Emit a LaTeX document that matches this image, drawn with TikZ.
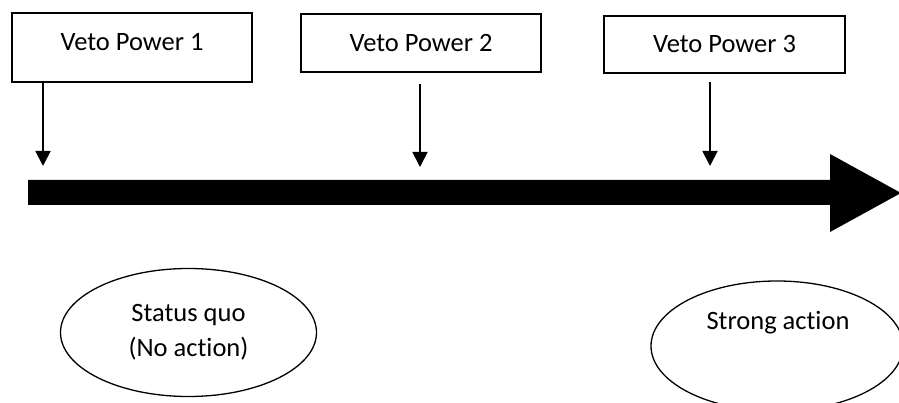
\documentclass[tikz,border=0pt]{standalone}
\usepackage{fontspec}
\setmainfont[Ligatures=NoCommon]{Carlito}
\usetikzlibrary{arrows.meta,shapes.geometric}
\begin{document}
\begin{tikzpicture}[x=1pt,y=-1pt,
  vetobox/.style={draw,line width=1.3pt,rectangle,inner sep=0pt,
    font=\fontsize{26.5}{32}\selectfont},
  outcome/.style={draw,line width=1.3pt,ellipse,inner sep=0pt,
    minimum width=256pt,minimum height=128pt,align=center,
    font=\fontsize{26.5}{35}\selectfont},
  pointer/.style={line width=1.8pt,-{Triangle[width=15pt,length=15pt]}}]
  \useasboundingbox (0,0) rectangle (899,403);
  \clip (0,0) rectangle (899,403);

  % veto boxes
  \node[vetobox,minimum width=240pt,minimum height=69pt,text depth=12pt] (v1) at (132,47.5) {Veto Power 1};
  \node[vetobox,minimum width=240pt,minimum height=58pt] (v2) at (421,43) {Veto Power 2};
  \node[vetobox,minimum width=241pt,minimum height=57pt] (v3) at (724.5,44.5) {Veto Power 3};

  % the thick timeline arrow
  \coordinate (bar) at (28,192.5);
  \fill (bar) ++(0,-12.5) -- (830,180) -- (830,154) -- (901,193)
        -- (830,232) -- (830,205) -- (28,205) -- cycle;

  % pointers from each veto onto the timeline
  \coordinate (s1) at (43,82);
  \coordinate (e1) at (43,166);
  \coordinate (s2) at (420,84);
  \coordinate (e2) at (420,167);
  \coordinate (s3) at (710,82);
  \coordinate (e3) at (710,166);
  \draw[pointer] (s1) -- (e1);
  \draw[pointer] (s2) -- (e2);
  \draw[pointer] (s3) -- (e3);

  % outcomes
  \node[outcome] (quo) at (188.5,332.5) {Status quo\\(No action)};
  \node[outcome,minimum width=252pt,minimum height=130pt] (strong) at (777,346) {};
  \node[font=\fontsize{26.5}{32}\selectfont] (strongtxt) at (778,323) {Strong action};
\end{tikzpicture}
\end{document}
